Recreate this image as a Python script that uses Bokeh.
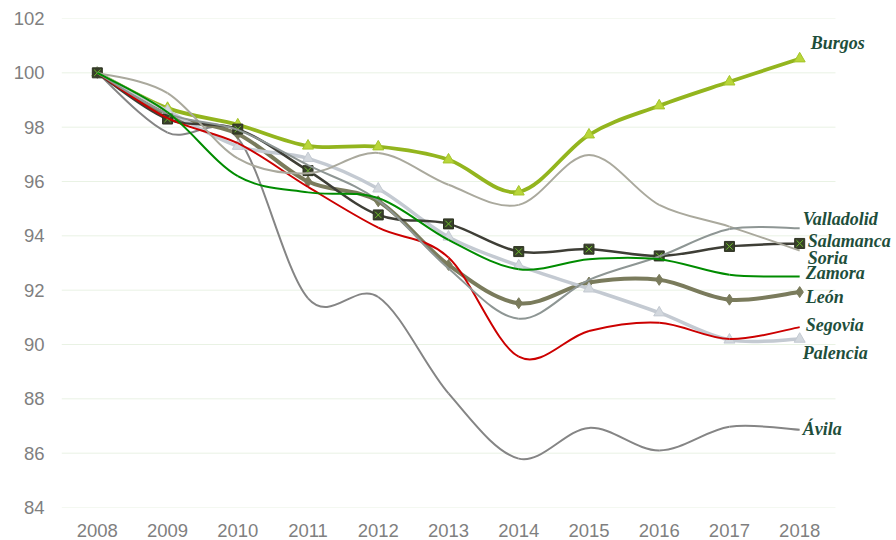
from bokeh.plotting import figure
from bokeh.models import ColumnDataSource, LabelSet, FixedTicker, Range1d
from bokeh.core.properties import value
from bokeh.embed import file_html
from bokeh.resources import INLINE

years = [2008, 2009, 2010, 2011, 2012, 2013, 2014, 2015, 2016, 2017, 2018]
y_ticks = [84, 86, 88, 90, 92, 94, 96, 98, 100, 102]

avila = [100, 97.8, 97.6, 91.7, 91.75, 88.2, 85.8, 86.93, 86.1, 86.97, 86.86]
burgos = [100, 98.7, 98.09, 97.31, 97.28, 96.8, 95.62, 97.72, 98.79, 99.67, 100.52]
leon = [100, 98.45, 97.75, 96.0, 95.27, 92.93, 91.52, 92.28, 92.38, 91.65, 91.93]
palencia = [100, 98.6, 97.3, 96.85, 95.73, 93.96, 92.9, 92.05, 91.17, 90.17, 90.2]
salamanca = [100, 98.3, 97.93, 96.4, 94.77, 94.44, 93.42, 93.51, 93.26, 93.61, 93.72]
segovia = [100, 98.33, 97.41, 95.8, 94.3, 93.2, 89.55, 90.5, 90.8, 90.2, 90.64]
soria = [100, 99.25, 96.85, 96.3, 97.05, 95.88, 95.14, 96.98, 95.14, 94.34, 93.46]
valladolid = [100, 98.5, 97.9, 96.6, 95.3, 92.8, 90.95, 92.38, 93.24, 94.25, 94.28]
zamora = [100, 98.55, 96.2, 95.6, 95.39, 93.85, 92.77, 93.14, 93.14, 92.57, 92.5]

names = ["Ávila", "Burgos", "León", "Palencia", "Salamanca", "Segovia", "Soria", "Valladolid", "Zamora"]
series = [avila, burgos, leon, palencia, salamanca, segovia, soria, valladolid, zamora]

# styles (not data)
colors = {"Ávila": "#858585", "Burgos": "#93B51E", "León": "#7A7B5C", "Palencia": "#C4CAD2",
          "Salamanca": "#3E3E36", "Segovia": "#CC0000", "Soria": "#AAA99D",
          "Valladolid": "#8E9694", "Zamora": "#008C00"}
widths = {"Ávila": 2, "Burgos": 3.8, "León": 4, "Palencia": 3.5, "Salamanca": 2.5,
          "Segovia": 2, "Soria": 2, "Valladolid": 2, "Zamora": 2}
label_dx = {"Ávila": 3, "Burgos": 11, "León": 6, "Palencia": 3, "Salamanca": 8,
            "Segovia": 6, "Soria": 8, "Valladolid": 3, "Zamora": 6}
label_dy = {"Ávila": 0.5, "Burgos": 15.5, "León": -4.5, "Palencia": -14, "Salamanca": 2,
            "Segovia": 2.3, "Soria": -7, "Valladolid": 9, "Zamora": 4}

X_LO, X_HI_GRID = 2007.49, 2018.51
PX_PER_YEAR = 774 / (X_HI_GRID - X_LO)


def bezier_segments(xs, ys):
    n = len(xs)
    d = dict(x0=[], y0=[], x1=[], y1=[], cx0=[], cy0=[], cx1=[], cy1=[])
    for i in range(n - 1):
        a = max(i - 1, 0)
        b = min(i + 2, n - 1)
        d["x0"].append(xs[i]); d["y0"].append(ys[i])
        d["x1"].append(xs[i + 1]); d["y1"].append(ys[i + 1])
        d["cx0"].append(xs[i] + (xs[i + 1] - xs[a]) / 6.0)
        d["cy0"].append(ys[i] + (ys[i + 1] - ys[a]) / 6.0)
        d["cx1"].append(xs[i + 1] - (xs[b] - xs[i]) / 6.0)
        d["cy1"].append(ys[i + 1] - (ys[b] - ys[i]) / 6.0)
    return d


W, H = 896, 540
LEFT, TOP, BOTTOM = 61, 18, 33
frame_w = W - LEFT
p = figure(width=W, height=H, output_backend="svg", toolbar_location=None,
           x_range=Range1d(X_LO, X_LO + frame_w / PX_PER_YEAR), y_range=Range1d(84, 102),
           min_border_left=LEFT, min_border_right=0, min_border_top=TOP, min_border_bottom=BOTTOM)
p.outline_line_color = None
p.background_fill_color = "white"
p.border_fill_color = "white"
p.xgrid.grid_line_color = None
p.ygrid.grid_line_color = None
p.xaxis.ticker = FixedTicker(ticks=years)
p.yaxis.ticker = FixedTicker(ticks=y_ticks)
for ax in (p.xaxis[0], p.yaxis[0]):
    ax.axis_line_color = None
    ax.major_tick_line_color = None
    ax.minor_tick_line_color = None
    ax.major_tick_out = 0
    ax.major_tick_in = 0
    ax.major_label_text_font = "Liberation Sans"
    ax.major_label_text_font_size = "18.5px"
    ax.major_label_text_color = "#7F7F7F"
p.yaxis.major_label_standoff = 17
p.xaxis.major_label_standoff = 16

# horizontal gridlines limited to the category area
p.segment(x0=[X_LO] * len(y_ticks), x1=[X_HI_GRID] * len(y_ticks), y0=y_ticks, y1=y_ticks,
          line_color="#E9F2E4", line_width=1)

for name, ys in zip(names, series):
    src = ColumnDataSource(bezier_segments(years, ys))
    p.bezier(x0="x0", y0="y0", x1="x1", y1="y1", cx0="cx0", cy0="cy0", cx1="cx1", cy1="cy1",
             source=src, line_color=colors[name], line_width=widths[name])
    if name == "Burgos":
        p.scatter(years, ys, marker="triangle", size=11, fill_color="#B9D63A", line_color="#A4C42A", line_width=1)
    elif name == "Palencia":
        p.scatter(years, ys, marker="triangle", size=11, fill_color="#D3D8DE", line_color="#C4CAD2", line_width=1)
    elif name == "León":
        p.scatter(years, ys, marker="diamond", size=11, fill_color="#7A7B5C", line_color="#7A7B5C")
    elif name == "Salamanca":
        p.scatter(years, ys, marker="square", size=10, fill_color="#38402A", line_color="#2E3322", line_width=1)
        p.scatter(years, ys, marker="x", size=9, line_color="#6DBE2A", line_width=1)

lab = ColumnDataSource(dict(
    x=[years[-1]] * len(names),
    y=[s[-1] for s in series],
    text=names,
    dx=[label_dx[n] for n in names],
    dy=[label_dy[n] for n in names],
))
p.add_layout(LabelSet(x="x", y="y", text="text", x_offset="dx", y_offset="dy", source=lab,
                      text_font=value("Liberation Serif"), text_font_style="bold italic",
                      text_font_size="18px", text_color="#1E4E3B",
                      text_align="left", text_baseline="middle"))

open("out.html", "w").write(file_html(p, INLINE))
